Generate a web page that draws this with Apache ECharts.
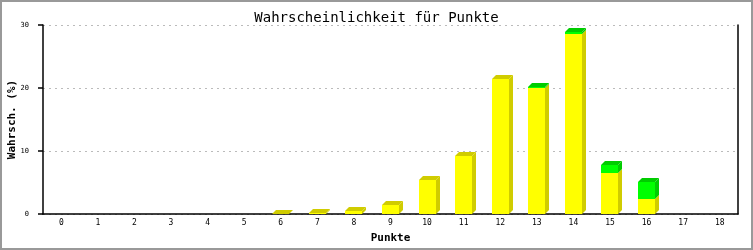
<!DOCTYPE html>
<html>
<head>
<meta charset="utf-8">
<script src="https://cdn.jsdelivr.net/npm/echarts@6/dist/echarts.min.js"></script>
<style>
html,body{margin:0;padding:0;background:#fff;}
#c{width:753px;height:250px;}
</style>
</head>
<body>
<div id="c"></div>
<script>
const categories = ['0','1','2','3','4','5','6','7','8','9','10','11','12','13','14','15','16','17','18'];
const yellowValues = [0,0,0,0,0,0,0.05,0.2,0.55,1.4,5.4,9.25,21.5,20.0,28.6,6.5,2.4,0,0];
const greenValues  = [0,0,0,0,0,0,0,0,0,0,0,0,0,0.2,0.3,1.3,2.7,0,0];
const yTicks = [0,10,20,30];

const chart = echarts.init(document.getElementById('c'), null, {renderer:'canvas'});

function make3D(front, dark) {
  return function (params, api) {
    const cat = api.value(0), base = api.value(1), top = api.value(2), isTop = api.value(3);
    if (top - base <= 0) return null;
    const p0 = api.coord([cat, base]);
    const p1 = api.coord([cat, top]);
    const w = 17, d = 4;
    const x = Math.round(p0[0] - w / 2);
    const yb = Math.round(p0[1]), yt = Math.round(p1[1]);
    const children = [
      {type:'rect', shape:{x:x, y:yt, width:w, height:yb-yt}, style:{fill:front}},
      {type:'polygon', shape:{points:[[x+w,yb],[x+w+d,yb-d],[x+w+d,yt-d],[x+w,yt]]}, style:{fill:dark}}
    ];
    if (isTop) {
      children.push({type:'polygon', shape:{points:[[x,yt],[x+d,yt-d],[x+w+d,yt-d],[x+w,yt]]}, style:{fill:dark}});
    }
    return {type:'group', children:children};
  };
}

const yellowData = categories.map((c,i) => [i, 0, yellowValues[i], greenValues[i] > 0 ? 0 : 1]);
const greenData = categories.map((c,i) => [i, yellowValues[i], yellowValues[i] + greenValues[i], 1]);

const mono = 'DejaVu Sans Mono';

chart.setOption({
  animation:false,
  backgroundColor:'#fff',
  title:{
    text:'Wahrscheinlichkeit für Punkte',
    left:'center', top:6,
    textStyle:{fontFamily:mono, fontSize:14, fontWeight:'normal', color:'#000'}
  },
  graphic:[{
    type:'rect', shape:{x:1,y:1,width:751,height:248},
    style:{fill:'none', stroke:'#999', lineWidth:2}, silent:true, z:100
  }],
  grid:{left:43, right:15, top:25, bottom:36, containLabel:false, outerBoundsMode:'none'},
  xAxis:{
    type:'category', data:categories, boundaryGap:true,
    name:'Punkte', nameLocation:'middle', nameGap:19, nameMoveOverlap:false,
    nameTextStyle:{fontFamily:mono, fontSize:11, fontWeight:'bold', color:'#000'},
    axisLine:{lineStyle:{color:'#000', width:1.5}},
    axisTick:{show:false},
    axisLabel:{fontFamily:mono, fontSize:8, color:'#000', margin:5}
  },
  yAxis:[{
    type:'value', min:yTicks[0], max:yTicks[yTicks.length-1], interval:10,
    name:'Wahrsch. (%)', nameLocation:'middle', nameGap:25, nameRotate:90, nameMoveOverlap:false,
    nameTextStyle:{fontFamily:mono, fontSize:11, fontWeight:'bold', color:'#000'},
    axisLine:{show:true, lineStyle:{color:'#000', width:1.5}},
    axisTick:{show:true, length:5, lineStyle:{color:'#000', width:1.5}},
    axisLabel:{fontFamily:mono, fontSize:7, color:'#000', margin:14},
    splitLine:{show:true, lineStyle:{color:'#bbb', type:[2,4], width:1}}
  },{
    type:'value', min:yTicks[0], max:yTicks[yTicks.length-1], interval:10, position:'right',
    axisLine:{show:true, lineStyle:{color:'#000', width:1.5}},
    axisTick:{show:false}, axisLabel:{show:false}, splitLine:{show:false}
  }],
  series:[
    {type:'custom', name:'gelb', renderItem:make3D('#ffff00','#d0cc00'), data:yellowData,
     encode:{x:0, y:[1,2]}, z:3},
    {type:'custom', name:'grün', renderItem:make3D('#00ff00','#00cc00'), data:greenData,
     encode:{x:0, y:[1,2]}, z:4}
  ]
});
</script>
</body>
</html>
